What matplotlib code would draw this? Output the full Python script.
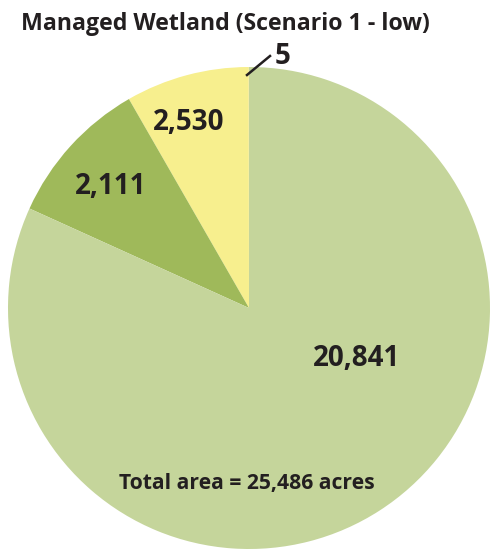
import matplotlib.pyplot as plt

plt.rcParams['font.family'] = ['Open Sans', 'DejaVu Sans']

# wedge sizes as drawn in the reference (counterclockwise from the top)
categories = ['Tiny', 'Yellow', 'Dark green', 'Light green']
acres = [5, 2111, 2530, 20841]
labels = ['5', '2,530', '2,111', '20,841']
colors = ['#cfae7c', '#f7ef8e', '#9fb95a', '#c5d59b']

W, H = 491, 550
fig = plt.figure(figsize=(W / 100, H / 100), dpi=100)

# pie centre and radius in pixels
cx, cy, r = 249, 308, 241
ax = fig.add_axes([(cx - r) / W, (H - cy - r) / H, 2 * r / W, 2 * r / H])
ax.pie(acres, colors=colors, startangle=90, counterclock=True, radius=1,
       wedgeprops=dict(linewidth=0))
ax.set_xlim(-1, 1)
ax.set_ylim(-1, 1)
ax.set_aspect('equal')
ax.axis('off')

def px(x, y):
    return x / W, 1 - y / H

fig.text(*px(225, 24), 'Managed Wetland (Scenario 1 - low)', ha='center', va='center',
         fontsize=16.7, fontweight='bold', color='#231f20')

label_pos = [(283, 57), (189, 123), (111, 186), (357, 358)]
for lab, (x, y) in zip(labels, label_pos):
    fig.text(*px(x, y), lab, ha='center', va='center', fontsize=20,
             fontweight='bold', color='#231f20')

fig.add_artist(plt.Line2D([247 / W, 270 / W], [1 - 75 / H, 1 - 56 / H],
                          color='#231f20', linewidth=1.8))

fig.text(*px(247, 484), 'Total area = 25,486 acres', ha='center', va='center',
         fontsize=15.2, fontweight='bold', color='#231f20')

fig.savefig('out.png', dpi=100)
